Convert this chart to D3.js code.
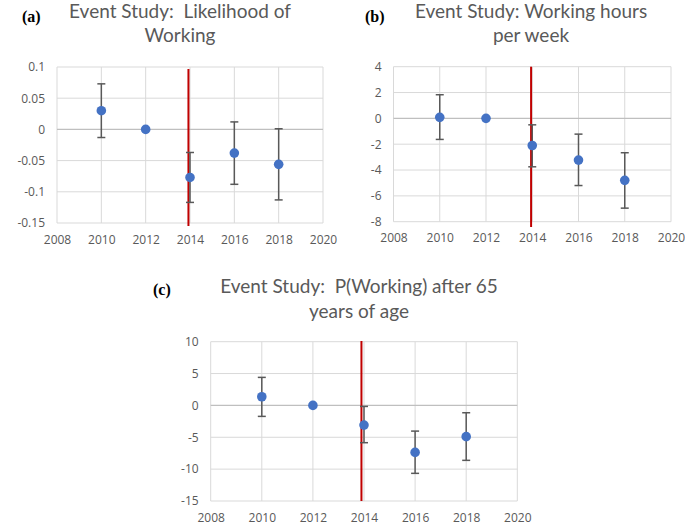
<!DOCTYPE html>
<html><head><meta charset="utf-8">
<script src="https://cdn.jsdelivr.net/npm/d3@7"></script>
<style>html,body{margin:0;padding:0;background:#fff;}svg{display:block;}</style>
</head><body>
<script>
const years = [2010, 2012, 2014, 2016, 2018];
const xTicks = [2008, 2010, 2012, 2014, 2016, 2018, 2020];

const aValues = [0.030, 0, -0.077, -0.038, -0.056];
const aLow = [-0.013, null, -0.117, -0.088, -0.113];
const aHigh = [0.073, null, -0.037, 0.012, 0.001];
const aTicks = [0.1, 0.05, 0, -0.05, -0.1, -0.15];
const aTickLabels = ["0.1", "0.05", "0", "-0.05", "-0.1", "-0.15"];

const bValues = [0.08, 0, -2.1, -3.23, -4.8];
const bLow = [-1.63, null, -3.75, -5.2, -6.95];
const bHigh = [1.83, null, -0.5, -1.22, -2.66];
const bTicks = [4, 2, 0, -2, -4, -6, -8];

const cValues = [1.36, 0, -3.09, -7.37, -4.9];
const cLow = [-1.72, null, -5.85, -10.66, -8.62];
const cHigh = [4.4, null, -0.16, -4.03, -1.15];
const cTicks = [10, 5, 0, -5, -10, -15];

const treatmentYears = [2013.93, 2013.95, 2013.9];

const panels = [
  {label:"(a)", title:["Event Study:  Likelihood of","Working"], vals:aValues, lo:aLow, hi:aHigh,
   ticks:aTicks, tickLabels:aTickLabels, red:treatmentYears[0],
   box:{l:57,t:67,r:323,b:223}, titleX:180, titleY:[18,42], labelX:22, labelY:22, redTop:69, redBot:226},
  {label:"(b)", title:["Event Study: Working hours","per week"], vals:bValues, lo:bLow, hi:bHigh,
   ticks:bTicks, tickLabels:bTicks.map(String), red:treatmentYears[1],
   box:{l:393.5,t:66.7,r:671,b:221.7}, titleX:531, titleY:[18,42], labelX:365, labelY:22, redTop:66.7, redBot:227},
  {label:"(c)", title:["Event Study:  P(Working) after 65","years of age"], vals:cValues, lo:cLow, hi:cHigh,
   ticks:cTicks, tickLabels:cTicks.map(String), red:treatmentYears[2],
   box:{l:210.7,t:341.7,r:517.3,b:501}, titleX:359, titleY:[293,318], labelX:153, labelY:295, redTop:341, redBot:501}
];

const svg = d3.select("body").append("svg").attr("width",685).attr("height",527);

panels.forEach(p => {
  const g = svg.append("g");
  const x = d3.scaleLinear().domain([2008,2020]).range([p.box.l,p.box.r]);
  const y = d3.scaleLinear().domain([d3.min(p.ticks), d3.max(p.ticks)]).range([p.box.b,p.box.t]);

  g.append("g").selectAll("line").data(xTicks).join("line")
    .attr("x1",d=>x(d)).attr("x2",d=>x(d)).attr("y1",p.box.t).attr("y2",p.box.b)
    .attr("stroke","#d9d9d9").attr("stroke-width",1);
  g.append("g").selectAll("line").data(p.ticks).join("line")
    .attr("x1",p.box.l).attr("x2",p.box.r).attr("y1",d=>y(d)).attr("y2",d=>y(d))
    .attr("stroke",d=>d===0?"#bfbfbf":"#d9d9d9").attr("stroke-width",d=>d===0?1.3:1);

  const yAxis = d3.axisLeft(y).tickValues(p.ticks).tickSize(0).tickPadding(12)
    .tickFormat(d=>p.tickLabels[p.ticks.indexOf(d)]);
  const ya = g.append("g").attr("transform",`translate(${p.box.l},0)`).call(yAxis);
  ya.select(".domain").remove();
  ya.selectAll("text").attr("fill","#595959").style("font-family","'Open Sans', sans-serif").style("font-size","12px");

  const xAxis = d3.axisBottom(x).tickValues(xTicks).tickSize(0).tickPadding(12).tickFormat(d3.format("d"));
  const xa = g.append("g").attr("transform",`translate(0,${p.box.b})`).call(xAxis);
  xa.select(".domain").remove();
  xa.selectAll("text").attr("fill","#595959").style("font-family","'Open Sans', sans-serif").style("font-size","12px");

  g.append("line").attr("x1",x(p.red)).attr("x2",x(p.red)).attr("y1",p.redTop).attr("y2",p.redBot)
    .attr("stroke","#c00000").attr("stroke-width",2);

  const idx = d3.range(years.length).filter(i=>p.lo[i]!==null);
  const eb = g.append("g").attr("stroke","#595959").attr("stroke-width",1.5);
  eb.selectAll("line.v").data(idx).join("line").attr("class","v")
    .attr("x1",i=>x(years[i])).attr("x2",i=>x(years[i])).attr("y1",i=>y(p.lo[i])).attr("y2",i=>y(p.hi[i]));
  eb.selectAll("line.lo").data(idx).join("line").attr("class","lo")
    .attr("x1",i=>x(years[i])-4).attr("x2",i=>x(years[i])+4).attr("y1",i=>y(p.lo[i])).attr("y2",i=>y(p.lo[i]));
  eb.selectAll("line.hi").data(idx).join("line").attr("class","hi")
    .attr("x1",i=>x(years[i])-4).attr("x2",i=>x(years[i])+4).attr("y1",i=>y(p.hi[i])).attr("y2",i=>y(p.hi[i]));

  g.append("g").selectAll("circle").data(years).join("circle")
    .attr("cx",d=>x(d)).attr("cy",(d,i)=>y(p.vals[i])).attr("r",4.8).attr("fill","#4472c4");

  p.title.forEach((t,k)=>{
    g.append("text").attr("x",p.titleX).attr("y",p.titleY[k]).attr("text-anchor","middle")
      .attr("fill","#595959").attr("xml:space","preserve").style("white-space","pre")
      .style("font-family","Lato, 'Open Sans', sans-serif").style("font-size","19px")
      .text(t);
  });
  g.append("text").attr("x",p.labelX).attr("y",p.labelY).attr("fill","#000")
    .style("font-family","'Liberation Serif', 'DejaVu Serif', serif").style("font-size","16px")
    .style("font-weight","bold").text(p.label);
});
</script>
</body></html>
